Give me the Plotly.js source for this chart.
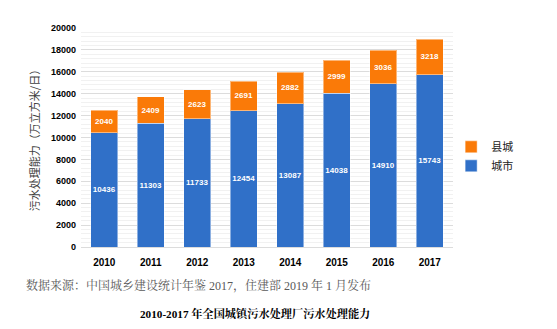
<!DOCTYPE html>
<html><head><meta charset="utf-8">
<script src="https://cdn.plot.ly/plotly-3.0.1.min.js"></script>
<style>html,body{margin:0;padding:0;background:#fff}#c{width:557px;height:329px}</style>
</head><body><div id="c"></div>
<script>
const years = ['2010','2011','2012','2013','2014','2015','2016','2017'];
const cityValues = [10436, 11303, 11733, 12454, 13087, 14038, 14910, 15743];
const countyValues = [2040, 2409, 2623, 2691, 2882, 2999, 3036, 3218];
const yTicks = [0,2000,4000,6000,8000,10000,12000,14000,16000,18000,20000];

const sans = 'Liberation Sans, Arial, Noto Sans CJK SC, sans-serif';
const serif = 'Liberation Serif, Times New Roman, Noto Serif CJK SC, Noto Sans CJK SC, serif';

const common = {
  type:'bar', x: years, textposition:'inside', insidetextanchor:'middle', textangle:0,
  textfont:{family:sans, size:8, color:'#ffffff', weight:'bold'},
  texttemplate:'%{text}', hoverinfo:'skip'
};
const data = [
  Object.assign({}, common, {name:'城市', y: cityValues, text: cityValues.map(String),
    marker:{color:'#3070C8', line:{color:'rgba(255,255,255,0.45)', width:1}}}),
  Object.assign({}, common, {name:'县城', y: countyValues, text: countyValues.map(String),
    marker:{color:'#FA7A08', line:{color:'rgba(255,255,255,0.45)', width:1}}})
];
const layout = {
  width:557, height:329, barmode:'stack', bargap:0.42,
  margin:{l:81, r:104, t:28, b:82},
  paper_bgcolor:'#fff', plot_bgcolor:'#fff', showlegend:true,
  uniformtext:{mode:'show', minsize:8},
  font:{family:sans, color:'#404040'},
  xaxis:{type:'category', tickfont:{family:sans, size:10, color:'#000', weight:'bold'},
    showline:false, ticks:'', showgrid:false, ticklabelstandoff:8},
  yaxis:{range:[0,20000], tickvals:yTicks, ticktext:yTicks.map(String),
    tickfont:{family:sans, size:9, color:'#000', weight:'bold'},
    showgrid:true, gridcolor:'#dcdcdc', gridwidth:1, zeroline:true, zerolinecolor:'#dcdcdc',
    ticks:'', ticklen:0, automargin:false, ticklabelstandoff:4,
    minor:{dtick:400, showgrid:true, gridcolor:'#f1f1f1', gridwidth:1},
    title:{text:'污水处理能力（万立方米/日）', standoff:9,
      font:{family:'Noto Sans CJK SC, sans-serif', size:11, color:'#404040'}}},
  legend:{x:0.995, y:0.414, xanchor:'left', yanchor:'middle', traceorder:'reversed',
    font:{family:'Noto Sans CJK SC, sans-serif', size:11, color:'#222'},
    itemwidth:30, tracegroupgap:0, bgcolor:'rgba(0,0,0,0)'},
  annotations:[
    {text:'数据来源：中国城乡建设统计年鉴 2017，住建部 2019 年 1 月发布', xref:'paper', yref:'paper',
      x:-0.153, y:-0.175, xanchor:'left', yanchor:'middle', showarrow:false,
      font:{family:serif, size:12, color:'#595959'}},
    {text:'<b>2010-2017 年全国城镇污水处理厂污水处理能力</b>', xref:'paper', yref:'paper',
      x:0.467, y:-0.303, xanchor:'center', yanchor:'middle', showarrow:false,
      font:{family:serif, size:11.2, color:'#000'}}
  ]
};
Plotly.newPlot('c', data, layout, {displayModeBar:false, staticPlot:true});
</script>
</body></html>
